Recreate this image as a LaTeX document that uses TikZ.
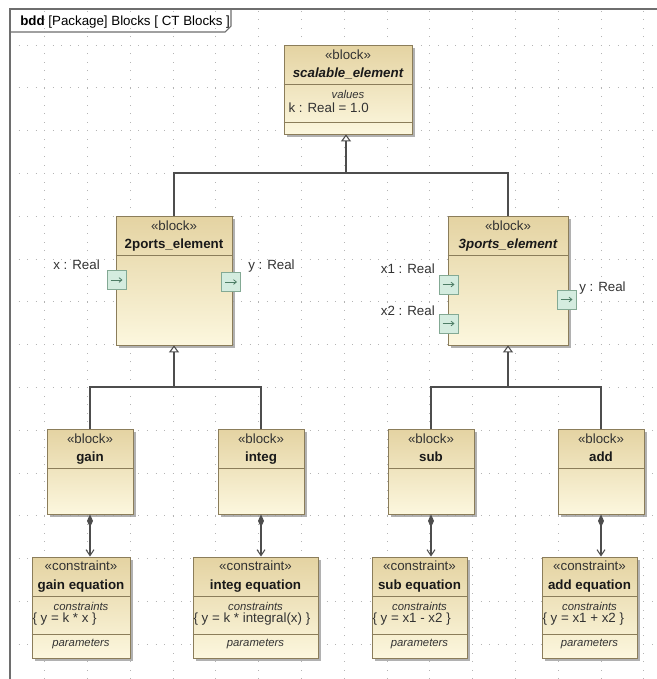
\documentclass[tikz,border=0pt]{standalone}
\usepackage{fontspec}
\setmainfont{Liberation Sans}
\usepackage{tikz}
\usetikzlibrary{arrows.meta}
\usetikzlibrary{shadows}
\usetikzlibrary{positioning}

\definecolor{blktop}{HTML}{E4D3A2}
\definecolor{blkbot}{HTML}{FCF7DE}
\definecolor{blkline}{HTML}{8B7D5A}
\definecolor{shadowc}{HTML}{9E9E9E}
\definecolor{portfill}{HTML}{D4ECDF}
\definecolor{portline}{HTML}{83A994}
\definecolor{portarr}{HTML}{4E7D66}
\definecolor{connc}{HTML}{4D4D4D}
\definecolor{stereoc}{HTML}{333333}
\definecolor{gridc}{HTML}{B4B4B4}
\definecolor{framec}{HTML}{6E6E6E}

\newcommand{\blkfont}{\fontsize{10}{12}\selectfont}
\newcommand{\cmpfont}{\fontsize{8.5}{10}\selectfont}

\tikzset{
    blockbox/.style={draw=blkline, line width=0.6pt, top color=blktop, bottom color=blkbot,
        inner sep=0pt, drop shadow={shadow xshift=2pt, shadow yshift=-2pt, fill=shadowc, opacity=0.8}},
    stereo/.style={anchor=base, inner sep=0pt, font=\blkfont, text=stereoc},
    bname/.style={anchor=base, inner sep=0pt, font=\blkfont\bfseries, text=black!90},
    bnamei/.style={bname, font=\blkfont\bfseries\itshape},
    compttl/.style={anchor=base, inner sep=0pt, font=\cmpfont\itshape, text=stereoc},
    comptxt/.style={anchor=base west, inner sep=0pt, font=\blkfont, text=stereoc},
    portlbl/.style={inner sep=0pt, font=\blkfont, text=stereoc},
    sepline/.style={draw=blkline, line width=0.6pt},
    port/.style={draw=portline, fill=portfill, line width=0.5pt, minimum size=14.25pt, inner sep=0pt,
        path picture={\draw[portarrow] ([xshift=-4.5pt]path picture bounding box.center) -- ([xshift=4.5pt]path picture bounding box.center);}},
    portarrow/.style={draw=portarr, line width=0.6pt, -{Straight Barb[length=2.2pt,width=3.6pt]}},
    conn/.style={draw=connc, line width=0.8pt},
    gen/.style={conn, -{Triangle[open, length=5.25pt, width=7.5pt, fill=white]}},
    comp/.style={conn, {Diamond[length=9.75pt, width=4.5pt]}-{Straight Barb[length=4.5pt, width=6pt]}},
    griddot/.style={draw=gridc, line width=0.6pt, dash pattern=on 0.6pt off 5.82pt},
    framel/.style={draw=framec, line width=0.8pt}
}

\begin{document}
\begin{tikzpicture}[x=0.75pt,y=-0.75pt]

        \useasboundingbox[fill=white] (0,0) rectangle (657,679);

        % background grid of the diagram
        \draw[griddot, step=32.1pt, shift={(1.8,2.2)}] (8.2,676.8) grid (655.2,6.8);

        % frame and its tab
        \draw[framel] (657,9) -- (10,9) -- (10,679);
        \draw[framel] (10,32) -- (225,32) -- (231,26) -- (231,9);
        \node[anchor=base west, inner sep=0pt, font=\blkfont] (title) at (20,25) {\textbf{bdd} [Package] Blocks [ CT Blocks ]};

        % top block
        \node[blockbox, minimum width=96pt, minimum height=66.75pt] (scal) at (348,89.5) {};
        \node[stereo] (scalst) at ([yshift=-11.25pt]scal.north) {«block»};
        \node[bnamei] (scalnm) at ([yshift=-24.75pt]scal.north) {scalable\_element};
        \draw[sepline] ([yshift=-30pt]scal.north west) -- ([yshift=-30pt]scal.north east);
        \node[compttl] (scalval) at ([yshift=-40.5pt]scal.north) {values};
        \node[comptxt] (scalk) at ([xshift=3.5pt,yshift=-51pt]scal.north west) {k : Real = 1.0};
        \draw[sepline] ([yshift=-58.5pt]scal.north west) -- ([yshift=-58.5pt]scal.north east);

        % middle blocks
        \node[blockbox, minimum width=87pt, minimum height=96.75pt] (p2) at (174,280.5) {};
        \node[stereo] (p2st) at ([yshift=-11.25pt]p2.north) {«block»};
        \node[bname] (p2nm) at ([yshift=-24.75pt]p2.north) {2ports\_element};
        \draw[sepline] ([yshift=-30pt]p2.north west) -- ([yshift=-30pt]p2.north east);

        \node[blockbox, minimum width=90pt, minimum height=96.75pt] (p3) at (508,280.5) {};
        \node[stereo] (p3st) at ([yshift=-11.25pt]p3.north) {«block»};
        \node[bnamei] (p3nm) at ([yshift=-24.75pt]p3.north) {3ports\_element};
        \draw[sepline] ([yshift=-30pt]p3.north west) -- ([yshift=-30pt]p3.north east);

        % ports
        \node[port] (p2x) at (116.5,280) {};
        \node[port] (p2y) at (231,282) {};
        \node[portlbl, anchor=base east] (lx) at (100,269) {x : Real};
        \node[portlbl, anchor=base west] (ly) at (248,269) {y : Real};

        \node[port] (p3x1) at (448.5,284.5) {};
        \node[port] (p3x2) at (448.5,323.5) {};
        \node[port] (p3y) at (566.5,299.5) {};
        \node[portlbl, anchor=base east] (lx1) at (435,273) {x1 : Real};
        \node[portlbl, anchor=base east] (lx2) at (435,315.7) {x2 : Real};
        \node[portlbl, anchor=base west] (ly3) at (579,291.7) {y : Real};

        % bottom blocks
        \node[blockbox, minimum width=64.5pt, minimum height=63.75pt] (gain) at (90,471.5) {};
        \node[stereo] (gainst) at ([yshift=-11.25pt]gain.north) {«block»};
        \node[bname] (gainnm) at ([yshift=-24.75pt]gain.north) {gain};
        \draw[sepline] ([yshift=-30pt]gain.north west) -- ([yshift=-30pt]gain.north east);

        \node[blockbox, minimum width=64.5pt, minimum height=63.75pt] (integ) at (261,471.5) {};
        \node[stereo] (integst) at ([yshift=-11.25pt]integ.north) {«block»};
        \node[bname] (integnm) at ([yshift=-24.75pt]integ.north) {integ};
        \draw[sepline] ([yshift=-30pt]integ.north west) -- ([yshift=-30pt]integ.north east);

        \node[blockbox, minimum width=64.5pt, minimum height=63.75pt] (sub) at (431,471.5) {};
        \node[stereo] (subst) at ([yshift=-11.25pt]sub.north) {«block»};
        \node[bname] (subnm) at ([yshift=-24.75pt]sub.north) {sub};
        \draw[sepline] ([yshift=-30pt]sub.north west) -- ([yshift=-30pt]sub.north east);

        \node[blockbox, minimum width=64.5pt, minimum height=63.75pt] (add) at (601,471.5) {};
        \node[stereo] (addst) at ([yshift=-11.25pt]add.north) {«block»};
        \node[bname] (addnm) at ([yshift=-24.75pt]add.north) {add};
        \draw[sepline] ([yshift=-30pt]add.north west) -- ([yshift=-30pt]add.north east);

        % constraint blocks
        \node[blockbox, minimum width=73.5pt, minimum height=75.75pt] (geq) at (81,607.5) {};
        \node[stereo] (geqst) at ([yshift=-10.5pt]geq.north) {«constraint»};
        \node[bname] (geqnm) at ([yshift=-24.75pt]geq.north) {gain equation};
        \draw[sepline] ([yshift=-30pt]geq.north west) -- ([yshift=-30pt]geq.north east);
        \node[compttl] (geqc) at ([yshift=-40.5pt]geq.north) {constraints};
        \node[comptxt] (geqtx) at ([xshift=0.5pt,yshift=-49.5pt]geq.north west) {\{ y = k * x \}};
        \draw[sepline] ([yshift=-58.5pt]geq.north west) -- ([yshift=-58.5pt]geq.north east);
        \node[compttl] (geqp) at ([yshift=-67.5pt]geq.north) {parameters};

        \node[blockbox, minimum width=93.75pt, minimum height=75.75pt] (ieq) at (255.5,607.5) {};
        \node[stereo] (ieqst) at ([yshift=-10.5pt]ieq.north) {«constraint»};
        \node[bname] (ieqnm) at ([yshift=-24.75pt]ieq.north) {integ equation};
        \draw[sepline] ([yshift=-30pt]ieq.north west) -- ([yshift=-30pt]ieq.north east);
        \node[compttl] (ieqc) at ([yshift=-40.5pt]ieq.north) {constraints};
        \node[comptxt] (ieqtx) at ([xshift=0.5pt,yshift=-49.5pt]ieq.north west) {\{ y = k * integral(x) \}};
        \draw[sepline] ([yshift=-58.5pt]ieq.north west) -- ([yshift=-58.5pt]ieq.north east);
        \node[compttl] (ieqp) at ([yshift=-67.5pt]ieq.north) {parameters};

        \node[blockbox, minimum width=71.25pt, minimum height=75.75pt] (seq) at (419.5,607.5) {};
        \node[stereo] (seqst) at ([yshift=-10.5pt]seq.north) {«constraint»};
        \node[bname] (seqnm) at ([yshift=-24.75pt]seq.north) {sub equation};
        \draw[sepline] ([yshift=-30pt]seq.north west) -- ([yshift=-30pt]seq.north east);
        \node[compttl] (seqc) at ([yshift=-40.5pt]seq.north) {constraints};
        \node[comptxt] (seqtx) at ([xshift=0.5pt,yshift=-49.5pt]seq.north west) {\{ y = x1 - x2 \}};
        \draw[sepline] ([yshift=-58.5pt]seq.north west) -- ([yshift=-58.5pt]seq.north east);
        \node[compttl] (seqp) at ([yshift=-67.5pt]seq.north) {parameters};

        \node[blockbox, minimum width=71.25pt, minimum height=75.75pt] (aeq) at (589.5,607.5) {};
        \node[stereo] (aeqst) at ([yshift=-10.5pt]aeq.north) {«constraint»};
        \node[bname] (aeqnm) at ([yshift=-24.75pt]aeq.north) {add equation};
        \draw[sepline] ([yshift=-30pt]aeq.north west) -- ([yshift=-30pt]aeq.north east);
        \node[compttl] (aeqc) at ([yshift=-40.5pt]aeq.north) {constraints};
        \node[comptxt] (aeqtx) at ([xshift=0.5pt,yshift=-49.5pt]aeq.north west) {\{ y = x1 + x2 \}};
        \draw[sepline] ([yshift=-58.5pt]aeq.north west) -- ([yshift=-58.5pt]aeq.north east);
        \node[compttl] (aeqp) at ([yshift=-67.5pt]aeq.north) {parameters};

        % generalizations
        \coordinate (topj) at (346,173);
        \draw[gen] (p2.north) |- (topj) -- (topj |- scal.south);
        \draw[conn] (p3.north) |- (topj);

        \coordinate (j2) at (174,387);
        \draw[gen] (gain.north) |- (j2) -- (j2 |- p2.south);
        \draw[conn] (integ.north) |- (j2);

        \coordinate (j3) at (508,387);
        \draw[gen] (sub.north) |- (j3) -- (j3 |- p3.south);
        \draw[conn] (add.north) |- (j3);

        % compositions
        \draw[comp] (gain.south) -- (gain.south |- geq.north);
        \draw[comp] (integ.south) -- (integ.south |- ieq.north);
        \draw[comp] (sub.south) -- (sub.south |- seq.north);
        \draw[comp] (add.south) -- (add.south |- aeq.north);

    \end{tikzpicture}
\end{document}
